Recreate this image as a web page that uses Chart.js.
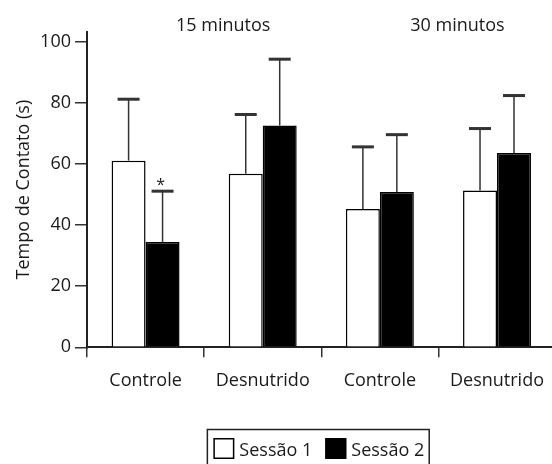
<!DOCTYPE html>
<html>
<head>
<meta charset="utf-8">
<script src="https://cdn.jsdelivr.net/npm/chart.js@4"></script>
<style>
html, body { margin: 0; padding: 0; background: #fff; overflow: hidden; }
#wrap { width: 557px; height: 464px; }
</style>
</head>
<body>
<div id="wrap"><canvas id="mycanvas"></canvas></div>
<script>
// data
var categories = ['Controle', 'Desnutrido', 'Controle', 'Desnutrido'];
var groupTitles = ['15 minutos', '30 minutos'];
var seriesNames = ['Sessão 1', 'Sessão 2'];
var sessao1 = [61.1, 56.8, 45.3, 51.3];
var sessao2 = [34.5, 72.6, 50.8, 63.6];
var sessao1Err = [20.1, 19.4, 20.3, 20.3];
var sessao2Err = [16.6, 21.7, 18.8, 18.8];
var sessao2Star = ['*', '', '', ''];
var yTicks = [0, 20, 40, 60, 80, 100];

var FONT = "'Open Sans', sans-serif";
var INK = '#1a1a1a';

Chart.defaults.font.family = FONT;
Chart.defaults.font.size = 18;
Chart.defaults.color = INK;

var errorBars = {
    id: 'errorBars',
    afterDatasetsDraw: function(chart) {
        var c = chart.ctx;
        var y = chart.scales.y;
        chart.data.datasets.forEach(function(ds, di) {
            var meta = chart.getDatasetMeta(di);
            meta.data.forEach(function(bar, i) {
                var top = y.getPixelForValue(ds.data[i] + ds.err[i]);
                c.save();
                c.strokeStyle = '#333';
                c.lineWidth = 1.5;
                c.beginPath();
                c.moveTo(bar.x, bar.y);
                c.lineTo(bar.x, top);
                c.stroke();
                c.lineWidth = 3;
                c.beginPath();
                c.moveTo(bar.x - 11, top);
                c.lineTo(bar.x + 11, top);
                c.stroke();
                if (ds.star && ds.star[i]) {
                    c.fillStyle = INK;
                    c.font = '16px ' + FONT;
                    c.textAlign = 'center';
                    c.textBaseline = 'alphabetic';
                    c.fillText(ds.star[i], bar.x - 2, top - 1);
                }
                c.restore();
            });
        });
    }
};

var extras = {
    id: 'extras',
    afterDraw: function(chart) {
        var c = chart.ctx;
        var x = chart.scales.x;
        var area = chart.chartArea;
        c.save();
        c.fillStyle = INK;
        c.font = '18px ' + FONT;
        c.textAlign = 'center';
        c.textBaseline = 'alphabetic';
        // group titles over each pair of categories
        for (var g = 0; g < groupTitles.length; g++) {
            var mid = (x.getPixelForValue(g * 2) + x.getPixelForValue(g * 2 + 1)) / 2;
            c.fillText(groupTitles[g], mid + 19, 31);
        }

        // legend with a frame
        var ds = chart.data.datasets;
        var box = 21, gap = 5, between = 13, pad = 6;
        var w = pad;
        ds.forEach(function(d, i) {
            w += box + gap + c.measureText(d.label).width + (i < ds.length - 1 ? between : 5);
        });
        var left = (area.left + area.right) / 2 - w / 2 - 3;
        var top = 429.5;
        c.strokeStyle = '#222';
        c.lineWidth = 1.5;
        c.strokeRect(left, top, w, 60);
        var cx = left + pad;
        c.textAlign = 'left';
        ds.forEach(function(d, i) {
            c.fillStyle = d.backgroundColor;
            c.fillRect(cx, 438, box, box);
            c.strokeStyle = '#000';
            c.lineWidth = 1.5;
            c.strokeRect(cx + 0.75, 438.75, box - 1.5, box - 1.5);
            cx += box + gap;
            c.fillStyle = INK;
            c.fillText(d.label, cx, 456);
            cx += c.measureText(d.label).width + between;
        });
        c.restore();
    }
};

var ctx = document.getElementById('mycanvas');

var chart = new Chart(ctx, {
    type: 'bar',
    data: {
        labels: categories,
        datasets: [
            {
                label: seriesNames[0],
                data: sessao1,
                err: sessao1Err,
                backgroundColor: '#ffffff',
                borderColor: '#000000',
                borderWidth: 1.5
            },
            {
                label: seriesNames[1],
                data: sessao2,
                err: sessao2Err,
                star: sessao2Star,
                backgroundColor: '#000000',
                borderColor: '#000000',
                borderWidth: 1.5
            }
        ]
    },
    options: {
        responsive: true,
        maintainAspectRatio: false,
        animation: false,
        layout: { padding: { left: 0, right: 0, top: 32, bottom: 0 } },
        datasets: { bar: { categoryPercentage: 0.58, barPercentage: 1 } },
        plugins: {
            legend: { display: false },
            tooltip: { enabled: false }
        },
        scales: {
            x: {
                offset: true,
                grid: { offset: true, drawOnChartArea: false, drawTicks: true, tickLength: 10, color: '#333', lineWidth: 1.5 },
                border: { display: true, color: '#222', width: 2 },
                ticks: { padding: 13, color: INK, maxRotation: 0 },
                afterFit: function(s) { s.height = 116.7; }
            },
            y: {
                min: 0,
                max: 103.2,
                afterBuildTicks: function(s) {
                    s.ticks = yTicks.map(function(v) { return { value: v }; });
                },
                ticks: { padding: 4, color: INK, includeBounds: false },
                grid: { drawOnChartArea: false, tickLength: 12, color: '#333', lineWidth: 1.5 },
                border: { display: true, color: '#222', width: 2 },
                title: { display: true, text: 'Tempo de Contato (s)', padding: { top: 13, bottom: 0 }, color: INK },
                afterFit: function(s) { s.width = 87; }
            }
        }
    },
    plugins: [errorBars, extras]
});
</script>
</body>
</html>
